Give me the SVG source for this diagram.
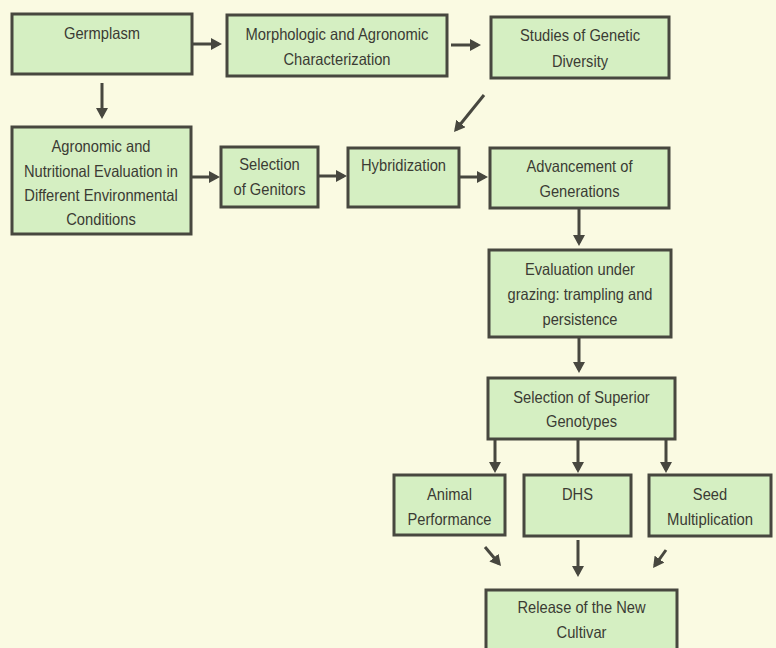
<svg xmlns="http://www.w3.org/2000/svg" width="776" height="648" viewBox="0 0 776 648">
<style>
.box{fill:#d5efc2;stroke:#47473f;stroke-width:3}
.t{font-family:"Liberation Sans",Arial,sans-serif;font-size:16.5px;fill:#3b3b34;text-anchor:middle}
.c{stroke:#47473f;stroke-width:3;fill:none}
</style>
<defs>
<marker id="ah" viewBox="0 0 11 12" refX="8" refY="6" markerWidth="11" markerHeight="12" markerUnits="userSpaceOnUse" orient="auto">
<path d="M0,0 L11,6 L0,12 z" fill="#47473f"/>
</marker>
</defs>
<rect width="776" height="648" fill="#fafae2"/>
<g id="n-germplasm"><rect class="box" x="12" y="14" width="180" height="60"/><text class="t" x="102" y="39" textLength="76" lengthAdjust="spacingAndGlyphs">Germplasm</text></g>
<g id="n-morph"><rect class="box" x="227" y="15" width="220" height="61"/><text class="t" x="337" y="40" textLength="183" lengthAdjust="spacingAndGlyphs">Morphologic and Agronomic</text><text class="t" x="337" y="65" textLength="107" lengthAdjust="spacingAndGlyphs">Characterization</text></g>
<g id="n-studies"><rect class="box" x="491" y="17" width="178" height="61"/><text class="t" x="580" y="41" textLength="120" lengthAdjust="spacingAndGlyphs">Studies of Genetic</text><text class="t" x="580" y="67" textLength="56" lengthAdjust="spacingAndGlyphs">Diversity</text></g>
<g id="n-agronomic"><rect class="box" x="12" y="127" width="179" height="107"/><text class="t" x="101" y="152" textLength="99" lengthAdjust="spacingAndGlyphs">Agronomic and</text><text class="t" x="101" y="177" textLength="154" lengthAdjust="spacingAndGlyphs">Nutritional Evaluation in</text><text class="t" x="101" y="201" textLength="153.5" lengthAdjust="spacingAndGlyphs">Different Environmental</text><text class="t" x="101" y="225" textLength="69.5" lengthAdjust="spacingAndGlyphs">Conditions</text></g>
<g id="n-genitors"><rect class="box" x="221" y="147" width="97" height="60"/><text class="t" x="269.5" y="170" textLength="60.5" lengthAdjust="spacingAndGlyphs">Selection</text><text class="t" x="269.5" y="195" textLength="72" lengthAdjust="spacingAndGlyphs">of Genitors</text></g>
<g id="n-hybrid"><rect class="box" x="348" y="148" width="111" height="59"/><text class="t" x="403.5" y="171" textLength="85" lengthAdjust="spacingAndGlyphs">Hybridization</text></g>
<g id="n-advance"><rect class="box" x="490" y="148" width="179" height="60"/><text class="t" x="579.5" y="172" textLength="106" lengthAdjust="spacingAndGlyphs">Advancement of</text><text class="t" x="579.5" y="197" textLength="80" lengthAdjust="spacingAndGlyphs">Generations</text></g>
<g id="n-grazing"><rect class="box" x="489" y="250" width="182" height="87"/><text class="t" x="580" y="275" textLength="110" lengthAdjust="spacingAndGlyphs">Evaluation under</text><text class="t" x="580" y="300" textLength="145" lengthAdjust="spacingAndGlyphs">grazing: trampling and</text><text class="t" x="580" y="325" textLength="75" lengthAdjust="spacingAndGlyphs">persistence</text></g>
<g id="n-superior"><rect class="box" x="488" y="378" width="187" height="61"/><text class="t" x="581.5" y="403" textLength="136.5" lengthAdjust="spacingAndGlyphs">Selection of Superior</text><text class="t" x="581.5" y="427" textLength="71" lengthAdjust="spacingAndGlyphs">Genotypes</text></g>
<g id="n-animal"><rect class="box" x="394" y="475" width="111" height="60"/><text class="t" x="449.5" y="500" textLength="45" lengthAdjust="spacingAndGlyphs">Animal</text><text class="t" x="449.5" y="525" textLength="84" lengthAdjust="spacingAndGlyphs">Performance</text></g>
<g id="n-dhs"><rect class="box" x="524" y="475" width="107" height="61"/><text class="t" x="577.5" y="500" textLength="31" lengthAdjust="spacingAndGlyphs">DHS</text></g>
<g id="n-seed"><rect class="box" x="649" y="475" width="122" height="61"/><text class="t" x="710" y="500" textLength="34.3" lengthAdjust="spacingAndGlyphs">Seed</text><text class="t" x="710" y="525" textLength="86" lengthAdjust="spacingAndGlyphs">Multiplication</text></g>
<g id="n-release"><rect class="box" x="486" y="590" width="191" height="64"/><text class="t" x="581.5" y="613" textLength="128" lengthAdjust="spacingAndGlyphs">Release of the New</text><text class="t" x="581.5" y="638" textLength="50" lengthAdjust="spacingAndGlyphs">Cultivar</text></g>
<g id="connectors">
<line class="c" x1="192" y1="44" x2="219" y2="44" marker-end="url(#ah)"/>
<line class="c" x1="451" y1="45" x2="478" y2="45" marker-end="url(#ah)"/>
<line class="c" x1="102" y1="83" x2="102" y2="116" marker-end="url(#ah)"/>
<line class="c" x1="484" y1="95" x2="455.9" y2="129.7" marker-end="url(#ah)"/>
<line class="c" x1="191" y1="177" x2="217" y2="177" marker-end="url(#ah)"/>
<line class="c" x1="318" y1="176" x2="344" y2="176" marker-end="url(#ah)"/>
<line class="c" x1="459" y1="177" x2="485" y2="177" marker-end="url(#ah)"/>
<line class="c" x1="579" y1="209" x2="579" y2="243" marker-end="url(#ah)"/>
<line class="c" x1="579" y1="337" x2="579" y2="370" marker-end="url(#ah)"/>
<line class="c" x1="495" y1="439" x2="495" y2="470" marker-end="url(#ah)"/>
<line class="c" x1="578" y1="439" x2="578" y2="470" marker-end="url(#ah)"/>
<line class="c" x1="666" y1="439" x2="666" y2="470" marker-end="url(#ah)"/>
<line class="c" x1="485" y1="547" x2="499.1" y2="563.7" marker-end="url(#ah)"/>
<line class="c" x1="578" y1="540" x2="578" y2="574" marker-end="url(#ah)"/>
<line class="c" x1="666" y1="550" x2="654.8" y2="565.6" marker-end="url(#ah)"/>
</g>
</svg>
